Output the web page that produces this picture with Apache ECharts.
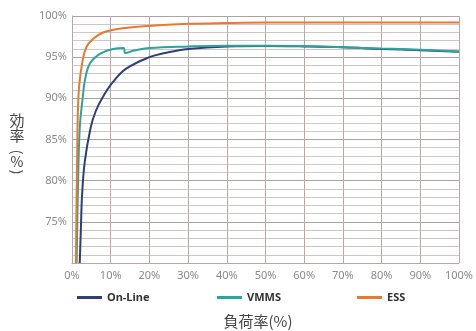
<!DOCTYPE html>
<html><head><meta charset="utf-8">
<script src="https://cdn.jsdelivr.net/npm/echarts@6/dist/echarts.min.js"></script>
<style>html,body{margin:0;padding:0;background:#fff}#c{width:476px;height:331px}</style>
</head><body><div id="c"></div>
<script>
var onlineX = [2.0, 2.3, 2.6, 3.3, 4.8, 6.1, 8.0, 10.6, 14.0, 20.0, 24, 30, 40, 50, 60, 70, 80, 90, 100];
var onlineY = [70, 74.2, 78.2, 82.3, 86.4, 88.4, 90.2, 92.0, 93.6, 95.0, 95.5, 96.0, 96.3, 96.35, 96.3, 96.2, 96.0, 95.85, 95.65];
var vmmsX = [1.2, 1.5, 2.0, 2.8, 3.3, 4.6, 7.2, 10.6, 13.3, 13.8, 16, 20, 30, 40, 50, 60, 70, 80, 90, 100];
var vmmsY = [70, 78.2, 86.4, 90.2, 92.1, 94.2, 95.4, 96.0, 96.1, 95.5, 95.8, 96.1, 96.3, 96.4, 96.4, 96.35, 96.2, 96.05, 95.9, 95.7];
var essX = [1.0, 1.3, 1.7, 2.6, 3.7, 5.4, 8.0, 11.4, 20, 30, 40, 50, 60, 70, 80, 90, 100];
var essY = [70, 82, 90.5, 94.2, 96.2, 97.2, 98.0, 98.4, 98.8, 99.05, 99.15, 99.2, 99.2, 99.2, 99.2, 99.2, 99.2];
var names = ['On-Line', 'VMMS', 'ESS'];
var colors = ['#2d3e78', '#2ba49b', '#e8792f'];

function pairs(xs, ys){ return xs.map(function(x,i){ return [x, ys[i]]; }); }

var chart = echarts.init(document.getElementById('c'));
var legendLeft = [72, 212, 352];
var cjk = '"Noto Sans CJK JP"';
function t(txt, x, y, rot, size){
  return {type: 'text', x: x, y: y, rotation: rot || 0,
    style: {text: txt, font: (size || 15) + 'px ' + cjk, fill: '#444', textAlign: 'center', textVerticalAlign: 'middle'}};
}
function ser(i, xs, ys){
  return {name: names[i], type: 'line', data: pairs(xs, ys), smooth: 0.4, showSymbol: false,
    lineStyle: {width: 2, color: colors[i]}, itemStyle: {color: colors[i]}, z: 2 + i};
}
chart.setOption({
  animation: false,
  grid: {left: 72, right: 13, top: 16, bottom: 68},
  xAxis: {
    type: 'value', min: 0, max: 100, interval: 10,
    axisLine: {show: true, lineStyle: {color: '#b5a8a8'}},
    axisTick: {show: false},
    axisLabel: {color: '#8a8a8a', fontSize: 11, margin: 7, formatter: '{value}%', fontFamily: 'Noto Sans'},
    splitLine: {show: true, lineStyle: {color: '#b9aaaa', width: 1}}
  },
  yAxis: {
    type: 'value', min: 70, max: 100, interval: 1,
    axisLine: {show: true, lineStyle: {color: '#b5a8a8'}},
    axisTick: {show: false},
    axisLabel: {color: '#8a8a8a', fontSize: 11, margin: 5, fontFamily: 'Noto Sans',
      formatter: function(v){ return (v % 5 === 0 && v > 70) ? v + '%' : ''; }},
    splitLine: {show: true, lineStyle: {color: ['#b0a2a2', '#cfc6c6', '#cfc6c6', '#cfc6c6', '#cfc6c6'], width: 1}}
  },
  legend: names.map(function(n, i){
    return {data: [n], left: legendLeft[i], top: 287, itemWidth: 25, itemHeight: 3, itemGap: 0,
      icon: 'rect', textStyle: {color: '#333', fontSize: 11, fontWeight: 'bold', fontFamily: 'Noto Sans'}};
  }),
  graphic: [
    t('効', 17, 120), t('率', 17, 135),
    t('(', 17, 152, -Math.PI/2, 14), t('%', 17, 162, 0, 14), t(')', 17, 172, -Math.PI/2, 14),
    {type: 'text', x: 258, y: 321, style: {text: '負荷率(%)', font: '15px ' + cjk, fill: '#444', textAlign: 'center', textVerticalAlign: 'middle'}}
  ],
  series: [ser(0, onlineX, onlineY), ser(1, vmmsX, vmmsY), ser(2, essX, essY)]
});
</script></body></html>
